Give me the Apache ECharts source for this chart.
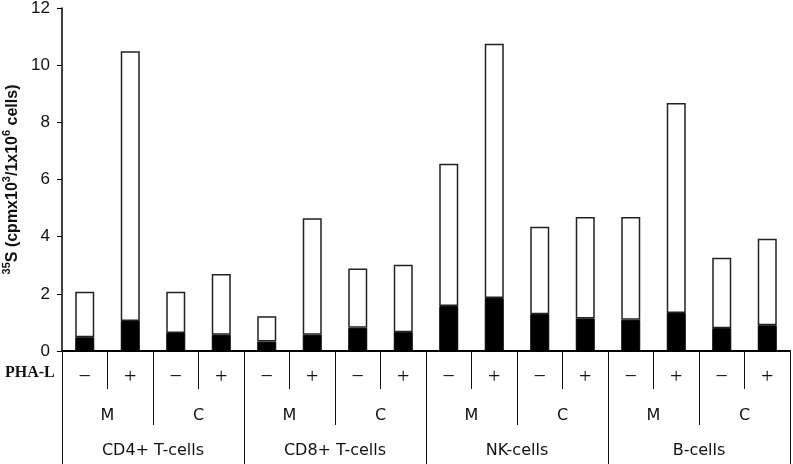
<!DOCTYPE html>
<html>
<head>
<meta charset="utf-8">
<script src="https://cdn.jsdelivr.net/npm/echarts@6/dist/echarts.min.js"></script>
<style>
  html, body { margin: 0; padding: 0; background: #fff; }
  #container { width: 793px; height: 464px; }
</style>
</head>
<body>
<div id="container"></div>
<script>
// PHA-L level (16 bars), M/C level, cell populations
var phaLabels = ['−', '+', '−', '+', '−', '+', '−', '+', '−', '+', '−', '+', '−', '+', '−', '+'];
var sourceLabels = ['M', 'C', 'M', 'C', 'M', 'C', 'M', 'C'];
var cellLabels = ['CD4+ T-cells', 'CD8+ T-cells', 'NK-cells', 'B-cells'];

// total bar height and the black (bottom) part
var totalValues = [2.07, 10.49, 2.07, 2.69, 1.22, 4.64, 2.89, 3.02, 6.55, 10.75, 4.35, 4.69, 4.69, 8.68, 3.26, 3.93];
var blackValues = [0.48, 1.05, 0.63, 0.57, 0.33, 0.57, 0.81, 0.66, 1.57, 1.85, 1.29, 1.14, 1.09, 1.33, 0.80, 0.90];

var yTicks = { min: 0, max: 12, interval: 2 };

var whiteValues = totalValues.map(function (t, i) {
	return +(t - blackValues[i]).toFixed(2);
});

var dom = document.getElementById('container');
var myChart = echarts.init(dom, null, { renderer: 'canvas' });

var sansFont = 'DejaVu Sans';

function levelAxis(data, tickLen, labelGap, labelStyle) {
	return {
		type: 'category',
		position: 'bottom',
		data: data,
		boundaryGap: true,
		axisLine: { show: true, lineStyle: { color: '#000', width: 1.5 } },
		axisTick: { show: true, interval: 0, length: tickLen, lineStyle: { color: '#111', width: 1 } },
		axisLabel: Object.assign({
			interval: 0,
			margin: labelGap,
			verticalAlign: 'middle',
			color: '#111'
		}, labelStyle),
		splitLine: { show: false }
	};
}

var option = {
	animation: false,
	backgroundColor: '#fff',
	grid: {
		left: 62,
		right: 3,
		top: 8,
		bottom: 113,
		containLabel: false,
		outerBoundsMode: 'none'
	},
	xAxis: [
		levelAxis(phaLabels, 38, 26, { fontFamily: 'Liberation Serif', fontSize: 22 }),
		levelAxis(sourceLabels, 74, 65, { fontFamily: sansFont, fontSize: 16 }),
		levelAxis(cellLabels, 113, 100, { fontFamily: sansFont, fontSize: 16 })
	],
	yAxis: {
		type: 'value',
		min: yTicks.min,
		max: yTicks.max,
		interval: yTicks.interval,
		axisLine: { show: true, lineStyle: { color: '#000', width: 1.5 } },
		axisTick: { show: true, length: 5, lineStyle: { color: '#000', width: 1 } },
		axisLabel: {
			margin: 12,
			color: '#111',
			fontFamily: 'Liberation Sans',
			fontSize: 17
		},
		splitLine: { show: false },
		name: '{sup|35}{b|S (cpmx10}{sup|3}{b|/1x10}{sup|6}{b| cells)}',
		nameLocation: 'middle',
		nameRotate: 90,
		nameGap: 32,
		nameTextStyle: {
			rich: {
				b: { fontFamily: 'Liberation Sans', fontWeight: 'bold', fontSize: 16, color: '#111', lineHeight: 19, verticalAlign: 'bottom' },
				sup: { fontFamily: 'Liberation Sans', fontWeight: 'bold', fontSize: 11, color: '#111', lineHeight: 19, verticalAlign: 'top' }
			}
		}
	},
	graphic: [
		{
			type: 'text',
			left: 5,
			top: 365,
			style: {
				text: 'PHA-L',
				fontFamily: 'Liberation Serif',
				fontWeight: 'bold',
				fontSize: 16,
				fill: '#111'
			}
		}
	],
	series: [
		{
			name: 'black',
			type: 'bar',
			stack: 'total',
			xAxisIndex: 0,
			barWidth: 19,
			data: blackValues,
			itemStyle: { color: '#000', borderColor: '#000', borderWidth: 1 }
		},
		{
			name: 'white',
			type: 'bar',
			stack: 'total',
			xAxisIndex: 0,
			barWidth: 19,
			data: whiteValues,
			itemStyle: { color: '#fff', borderColor: '#222', borderWidth: 1.5 }
		}
	]
};

if (option && typeof option === 'object') {
	myChart.setOption(option, true);
}
</script>
</body>
</html>
